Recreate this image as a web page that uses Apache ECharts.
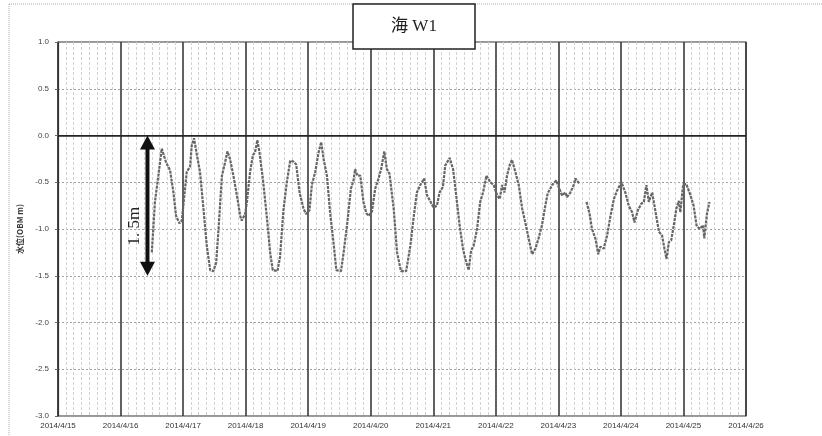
<!DOCTYPE html>
<html>
<head>
<meta charset="utf-8">
<script src="https://cdn.jsdelivr.net/npm/echarts@6/dist/echarts.min.js"></script>
<style>html,body{margin:0;padding:0;background:#fff;}#c{width:822px;height:436px;}</style>
</head>
<body>
<div id="c"></div>
<script>
// hours after 2014/4/16 00:00
const hours = [12.0,13.2,14.5,15.8,16.4,17.5,19.0,20.3,21.3,22.6,23.5,24.1,25.4,26.7,27.3,28.2,29.3,30.5,31.8,33.1,34.4,35.6,36.7,37.6,38.9,40.1,41.0,42.0,43.3,44.9,45.9,46.5,47.8,48.5,49.7,50.8,51.6,52.5,53.3,54.6,56.1,57.4,58.4,60.2,61.2,62.5,63.8,65.1,66.4,67.4,68.7,70.2,71.2,72.5,73.4,74.7,76.0,77.0,77.9,79.2,80.4,81.7,82.8,84.6,85.6,86.9,88.4,89.4,90.0,90.9,92.0,93.2,94.3,95.2,96.5,97.7,99.0,100.0,101.2,102.2,103.2,104.8,106.1,107.6,109.6,111.2,112.4,113.7,115.0,116.5,117.6,118.8,120.1,121.4,122.4,123.7,124.6,126.3,127.6,128.8,130.1,131.4,132.3,133.6,134.5,135.5,136.8,138.0,139.1,140.4,141.9,143.2,144.5,145.5,146.4,147.3,148.3,149.3,150.2,151.5,152.8,154.1,155.3,156.6,157.9,159.2,160.4,161.7,163.0,163.9,165.6,167.2,168.1,169.4,170.7,171.3,172.6,173.9,174.5,176.2,177.5,178.8,180.0,180.9,182.2,183.3,184.1,185.4,186.7,188.0,189.3,190.5,192.2,193.7,195.0,196.3,197.2,198.5,199.8,200.8,201.8,202.7,204.0,205.3,206.6,207.8,208.7,209.5,210.4,211.3,212.3,213.3,214.2,214.8,215.9,217.1,218.7,219.9,221.0,222.2,223.5,224.0,225.0,226.0];
const levels = [-1.25,-0.71,-0.43,-0.14,-0.12,-0.29,-0.37,-0.61,-0.86,-0.94,-0.91,-0.75,-0.39,-0.33,-0.11,-0.03,-0.21,-0.39,-0.78,-1.18,-1.44,-1.45,-1.36,-1.00,-0.43,-0.29,-0.17,-0.25,-0.43,-0.68,-0.86,-0.91,-0.84,-0.71,-0.39,-0.21,-0.18,-0.05,-0.18,-0.46,-0.86,-1.25,-1.44,-1.45,-1.30,-0.80,-0.50,-0.27,-0.28,-0.31,-0.61,-0.78,-0.84,-0.80,-0.53,-0.39,-0.18,-0.07,-0.25,-0.43,-0.82,-1.14,-1.44,-1.45,-1.25,-0.96,-0.57,-0.48,-0.36,-0.43,-0.43,-0.71,-0.83,-0.86,-0.81,-0.57,-0.46,-0.36,-0.17,-0.36,-0.41,-0.78,-1.25,-1.45,-1.45,-1.18,-0.89,-0.61,-0.53,-0.46,-0.64,-0.70,-0.77,-0.75,-0.61,-0.55,-0.32,-0.24,-0.36,-0.64,-0.96,-1.21,-1.32,-1.44,-1.23,-1.18,-1.00,-0.71,-0.61,-0.43,-0.50,-0.53,-0.64,-0.68,-0.53,-0.61,-0.43,-0.32,-0.26,-0.39,-0.53,-0.78,-0.93,-1.10,-1.27,-1.21,-1.10,-0.96,-0.75,-0.62,-0.53,-0.48,-0.55,-0.64,-0.61,-0.66,-0.61,-0.53,-0.46,-0.52,null,-0.71,-0.84,-1.00,-1.10,-1.27,-1.19,-1.21,-1.07,-0.86,-0.68,-0.59,-0.50,-0.61,-0.75,-0.82,-0.93,-0.80,-0.73,-0.71,-0.53,-0.71,-0.61,-0.82,-1.03,-1.07,-1.21,-1.32,-1.14,-1.12,-0.96,-0.78,-0.70,-0.82,-0.52,-0.52,-0.64,-0.75,-0.96,-1.00,-0.96,-1.10,-0.84,-0.71];
const titleText = '海 W1';
const yName = '水位(OBM m)';
const arrowText = '1. 5m';
const arrowRange = [0, -1.5];

const DAY = 86400000;
const base = Date.UTC(2014, 3, 16);
const data = hours.map((h, i) => [base + h * 3600000, levels[i]]);

const chart = echarts.init(document.getElementById('c'));
chart.setOption({
  animation: false,
  backgroundColor: '#fff',
  grid: { left: 58, right: 76, top: 42, bottom: 20, show: true, borderColor: '#333', borderWidth: 1.2 },
  xAxis: {
    type: 'value',
    min: Date.UTC(2014, 3, 15),
    max: Date.UTC(2014, 3, 26),
    interval: DAY,
    axisLine: { show: true, lineStyle: { color: '#333', width: 1.2 } },
    axisTick: { show: false },
    axisLabel: {
      fontSize: 8, color: '#333', margin: 6, fontFamily: 'Liberation Sans',
      formatter: v => { const d = new Date(v); return d.getUTCFullYear() + '/' + (d.getUTCMonth() + 1) + '/' + d.getUTCDate(); }
    },
    splitLine: { show: true, lineStyle: { color: '#3a3a3a', width: 1.6 } },
    minorTick: { show: false, splitNumber: 8 },
    minorSplitLine: { show: true, lineStyle: { color: '#d2d2d2', width: 1, type: [3, 2] } }
  },
  yAxis: {
    type: 'value',
    min: -3, max: 1, interval: 0.5,
    name: yName,
    nameLocation: 'middle',
    nameGap: 28,
    nameTextStyle: { fontSize: 8, fontWeight: 'bold', color: '#333', fontFamily: 'Noto Sans CJK JP' },
    axisLine: { show: true, lineStyle: { color: '#333', width: 1.2 } },
    axisTick: { show: true, length: 3, lineStyle: { color: '#666' } },
    axisLabel: { fontSize: 8, color: '#444', margin: 9, fontFamily: 'Liberation Sans', formatter: v => v.toFixed(1) },
    splitLine: { show: true, lineStyle: { color: '#a0a0a0', width: 1, type: [2, 2] } }
  },
  series: [{
    type: 'line',
    data: data,
    showSymbol: false,
    connectNulls: false,
    lineStyle: { color: '#666', width: 2.2, type: [3, 1] },
    z: 5,
    markLine: {
      silent: true, symbol: 'none', label: { show: false },
      lineStyle: { color: '#222', width: 1.5, type: 'solid' },
      data: [{ yAxis: 0 }]
    }
  }]
});

const ax = chart.convertToPixel({ xAxisIndex: 0 }, Date.UTC(2014, 3, 16, 10, 20));
const yT = chart.convertToPixel({ yAxisIndex: 0 }, arrowRange[0]);
const yB = chart.convertToPixel({ yAxisIndex: 0 }, arrowRange[1]);
const yText = chart.convertToPixel({ yAxisIndex: 0 }, -0.97);
const hw = 7.5, hh = 14;

chart.setOption({
  graphic: [
    { type: 'line', shape: { x1: 9, y1: 4, x2: 822, y2: 4 }, style: { stroke: '#aaa', lineWidth: 1, lineDash: [1, 1] }, silent: true },
    { type: 'line', shape: { x1: 9, y1: 4, x2: 9, y2: 436 }, style: { stroke: '#aaa', lineWidth: 1, lineDash: [1, 1] }, silent: true },
    { type: 'rect', shape: { x: 353, y: 4, width: 122, height: 45 }, style: { fill: '#fff', stroke: '#222', lineWidth: 1.5 }, z: 100 },
    { type: 'text', x: 414, y: 27, style: { text: titleText, font: '17px "Liberation Serif", "Noto Sans CJK JP"', fill: '#222', align: 'center', verticalAlign: 'middle' }, z: 101 },
    { type: 'rect', shape: { x: ax - 2, y: yT + hh - 2, width: 4, height: (yB - yT) - 2 * hh + 4 }, style: { fill: '#111' }, z: 50 },
    { type: 'polygon', shape: { points: [[ax, yT], [ax - hw, yT + hh], [ax + hw, yT + hh]] }, style: { fill: '#111' }, z: 50 },
    { type: 'polygon', shape: { points: [[ax, yB], [ax - hw, yB - hh], [ax + hw, yB - hh]] }, style: { fill: '#111' }, z: 50 },
    { type: 'text', x: ax - 13, y: yText, rotation: Math.PI / 2, style: { text: arrowText, font: '17px "Liberation Serif"', fill: '#222', align: 'center', verticalAlign: 'middle' }, z: 50 }
  ]
});
</script>
</body>
</html>
